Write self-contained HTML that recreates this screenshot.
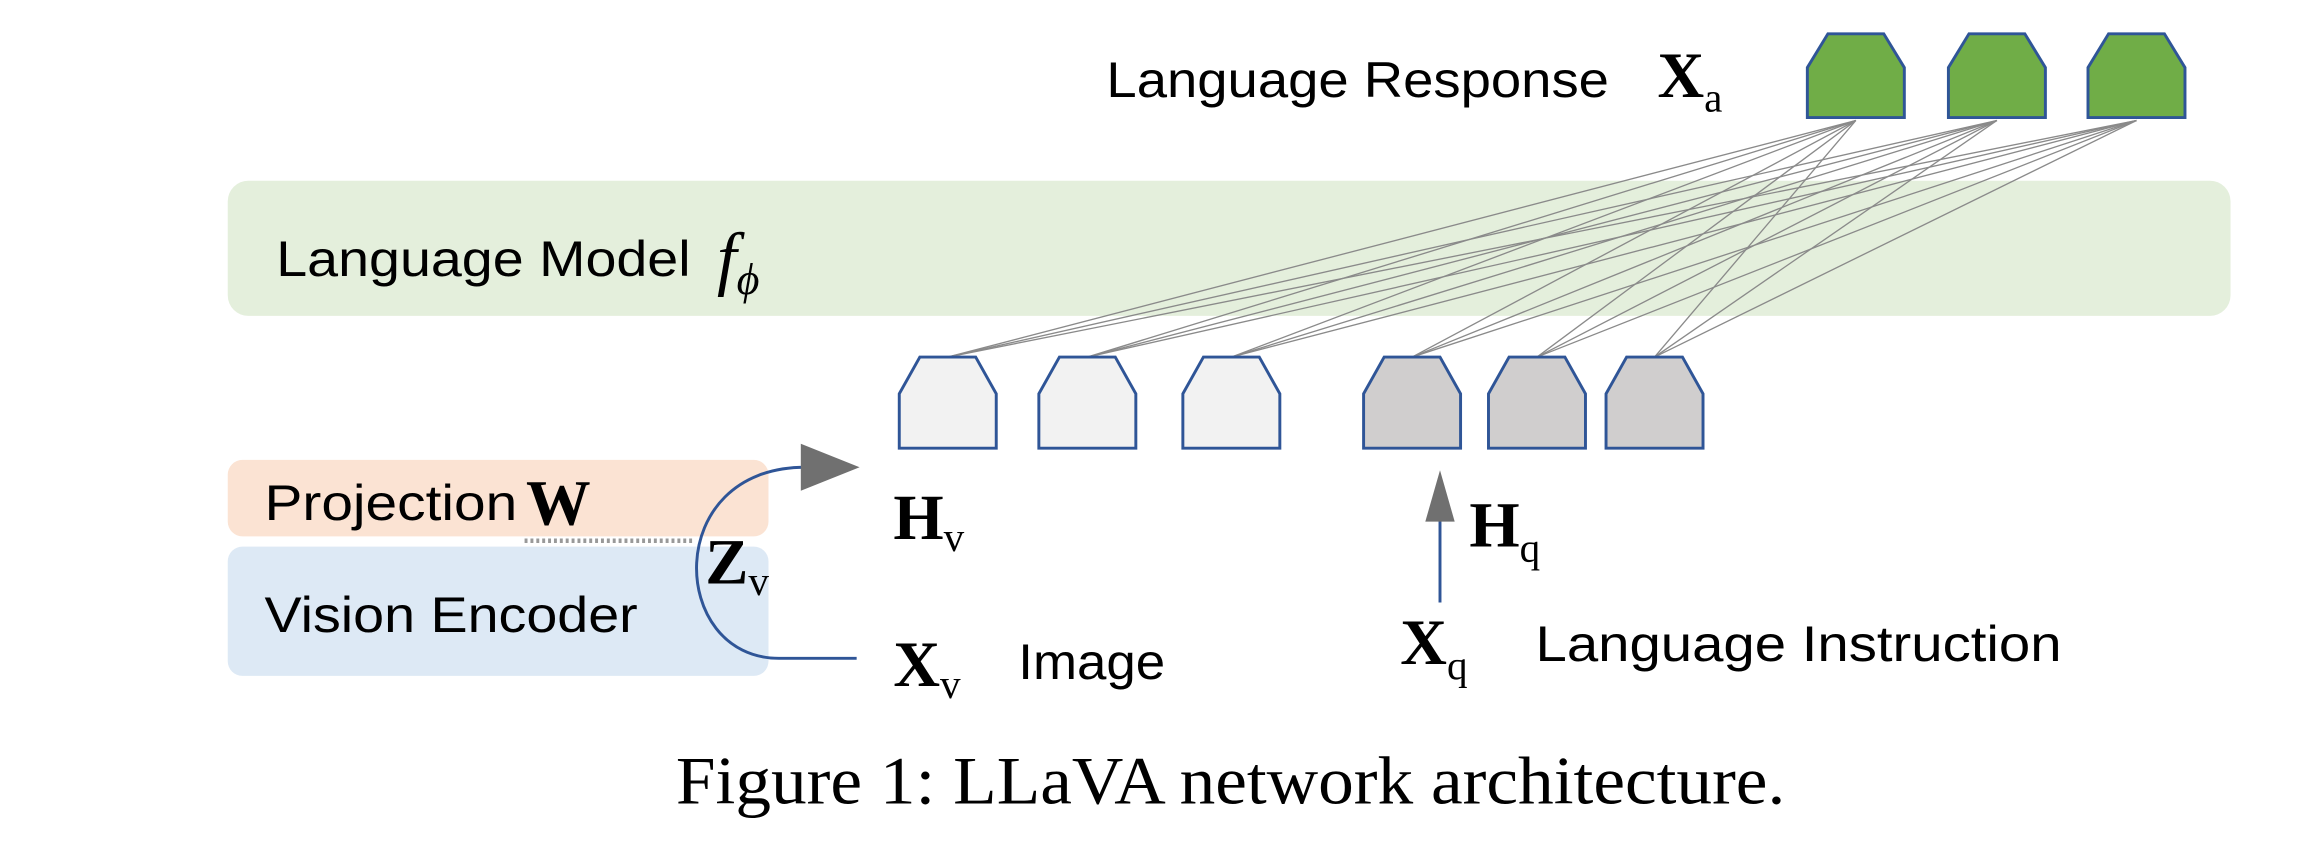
<!DOCTYPE html>
<html><head><meta charset="utf-8"><style>html,body{margin:0;padding:0;background:#fff}svg{display:block}</style></head>
<body>
<svg width="2304" height="864" viewBox="0 0 1568 588" preserveAspectRatio="none" xmlns="http://www.w3.org/2000/svg">
<rect x="155" y="123" width="1363" height="92" rx="14" fill="#e4efdc"/>
<rect x="155" y="313" width="368" height="52" rx="10" fill="#fbe3d3"/>
<rect x="155" y="372" width="368" height="88" rx="10" fill="#dde9f5"/>
<line x1="357" y1="368" x2="472" y2="368" stroke="#999" stroke-width="3" stroke-dasharray="2,2"/>
<g stroke="#8a8a8a" stroke-width="0.9">
<line x1="645" y1="243" x2="1263" y2="82"/><line x1="645" y1="243" x2="1359" y2="82"/><line x1="645" y1="243" x2="1454" y2="82"/>
<line x1="740" y1="243" x2="1263" y2="82"/><line x1="740" y1="243" x2="1359" y2="82"/><line x1="740" y1="243" x2="1454" y2="82"/>
<line x1="838" y1="243" x2="1263" y2="82"/><line x1="838" y1="243" x2="1359" y2="82"/><line x1="838" y1="243" x2="1454" y2="82"/>
<line x1="961" y1="243" x2="1263" y2="82"/><line x1="961" y1="243" x2="1359" y2="82"/><line x1="961" y1="243" x2="1454" y2="82"/>
<line x1="1046" y1="243" x2="1263" y2="82"/><line x1="1046" y1="243" x2="1359" y2="82"/><line x1="1046" y1="243" x2="1454" y2="82"/>
<line x1="1126" y1="243" x2="1263" y2="82"/><line x1="1126" y1="243" x2="1359" y2="82"/><line x1="1126" y1="243" x2="1454" y2="82"/>
</g>
<g stroke="#2f5597" stroke-width="2">
<path d="M626 243H664L678 268V305H612V268Z" fill="#f2f2f2"/>
<path d="M721 243H759L773 268V305H707V268Z" fill="#f2f2f2"/>
<path d="M819 243H857L871 268V305H805V268Z" fill="#f2f2f2"/>
<path d="M942 243H980L994 268V305H928V268Z" fill="#d0cece"/>
<path d="M1027 243H1065L1079 268V305H1013V268Z" fill="#d0cece"/>
<path d="M1107 243H1145L1159 268V305H1093V268Z" fill="#d0cece"/>
<path d="M1244 23H1282L1296 46V80H1230V46Z" fill="#70ad47"/>
<path d="M1340 23H1378L1392 46V80H1326V46Z" fill="#70ad47"/>
<path d="M1435 23H1473L1487 46V80H1421V46Z" fill="#70ad47"/>
</g>
<path d="M583 448H530C455 448 450 318 548 318" fill="none" stroke="#2f5597" stroke-width="2"/>
<polygon points="545,302 585,318 545,334" fill="#707070"/>
<line x1="980" y1="410" x2="980" y2="340" stroke="#2f5597" stroke-width="2"/>
<polygon points="980,320 970,355 990,355" fill="#707070"/>
<g font-family="Liberation Sans, sans-serif" fill="#000" font-size="34">
<text x="753" y="66" textLength="342" lengthAdjust="spacingAndGlyphs">Language Response</text>
<text x="188" y="188" textLength="282" lengthAdjust="spacingAndGlyphs">Language Model</text>
<text x="180" y="354" textLength="172" lengthAdjust="spacingAndGlyphs">Projection</text>
<text x="180" y="430" textLength="254" lengthAdjust="spacingAndGlyphs">Vision Encoder</text>
<text x="693" y="462" textLength="100" lengthAdjust="spacingAndGlyphs">Image</text>
<text x="1045" y="450" textLength="358" lengthAdjust="spacingAndGlyphs">Language Instruction</text>
</g>
<g font-family="Liberation Serif, serif" font-weight="bold" fill="#000" font-size="44">
<text x="1128" y="66">X<tspan font-size="28" dy="10" font-weight="normal">a</tspan></text>
<text x="358" y="357">W</text>
<text x="608" y="367">H<tspan font-size="28" dy="8" font-weight="normal">v</tspan></text>
<text x="480" y="397">Z<tspan font-size="28" dy="8" font-weight="normal">v</tspan></text>
<text x="608" y="467">X<tspan font-size="28" dy="8" font-weight="normal">v</tspan></text>
<text x="953" y="452">X<tspan font-size="28" dy="10" font-weight="normal">q</tspan></text>
<text x="1000" y="372">H<tspan font-size="28" dy="10" font-weight="normal">q</tspan></text>
</g>
<text x="488" y="192" font-family="Liberation Serif, serif" font-style="italic" font-size="48">f<tspan font-size="30" dy="8">ϕ</tspan></text>
<text x="460" y="547" font-family="Liberation Serif, serif" font-size="46" textLength="755" lengthAdjust="spacingAndGlyphs">Figure 1: LLaVA network architecture.</text>
</svg>
</body></html>
